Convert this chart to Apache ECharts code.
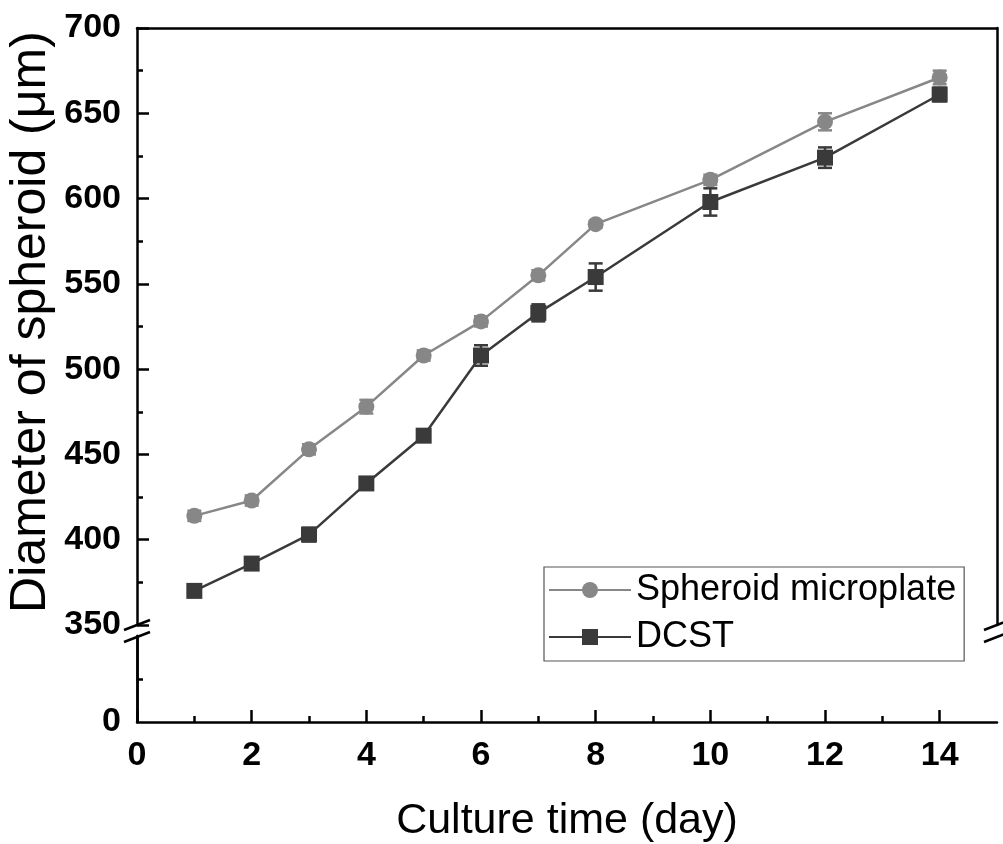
<!DOCTYPE html>
<html>
<head>
<meta charset="utf-8">
<script src="https://cdn.jsdelivr.net/npm/echarts@6/dist/echarts.min.js"></script>
<style>
html,body{margin:0;padding:0;background:#fff;}
#chart{width:1003px;height:844px;}
</style>
</head>
<body>
<div id="chart"></div>
<script>
// ---- data ----
var days = [1, 2, 3, 4, 5, 6, 7, 8, 10, 12, 14];
var spheroidMicroplate = [414, 423, 453, 478, 508, 528, 555, 585, 611, 645, 671];
var spheroidMicroplateErr = [3, 3, 3, 4, 3, 3, 3, 2, 3, 5, 4];
var dcst = [370, 386, 403, 433, 461, 508, 533, 554, 598, 624, 661];
var dcstErr = [2, 2, 4, 3, 3, 6, 5, 8, 8, 6, 4];
var xMajorTicks = [0, 2, 4, 6, 8, 10, 12, 14];
var xMinorTicks = [1, 3, 5, 7, 9, 11, 13];
var seriesNames = ['Spheroid microplate', 'DCST'];

var FONT = 'Liberation Sans, Arial, sans-serif';
var colLight = '#878787';
var colDark = '#3a3a3a';

function pairs(xs, ys) { return xs.map(function (x, i) { return [x, ys[i]]; }); }
function errData(xs, ys, es) { return xs.map(function (x, i) { return [x, ys[i] - es[i], ys[i] + es[i]]; }); }

function errRenderer(color) {
  return function (params, api) {
    var x = api.value(0), lo = api.value(1), hi = api.value(2);
    var pHi = api.coord([x, hi]), pLo = api.coord([x, lo]);
    var hw = 7;
    var st = { stroke: color, lineWidth: 2.5 };
    return {
      type: 'group',
      children: [
        { type: 'line', shape: { x1: pHi[0], y1: pHi[1], x2: pLo[0], y2: pLo[1] }, style: st },
        { type: 'line', shape: { x1: pHi[0] - hw, y1: pHi[1], x2: pHi[0] + hw, y2: pHi[1] }, style: st },
        { type: 'line', shape: { x1: pLo[0] - hw, y1: pLo[1], x2: pLo[0] + hw, y2: pLo[1] }, style: st }
      ]
    };
  };
}

var axisLine = { show: true, lineStyle: { color: '#000', width: 2.5 } };
var tickLabel = { color: '#000', fontSize: 34, fontWeight: 'bold', fontFamily: FONT };

var chart = echarts.init(document.getElementById('chart'), null, { renderer: 'canvas' });

var breakStyle = { stroke: '#000', lineWidth: 2.5 };

var option = {
  animation: false,
  backgroundColor: '#fff',
  grid: [
    { left: 137, right: 6, top: 28, height: 597 },
    { left: 137, right: 6, top: 636, height: 86 }
  ],
  xAxis: [
    {
      gridIndex: 1, type: 'value', position: 'bottom', min: 0, max: 15, interval: 2,
      axisLine: axisLine,
      axisTick: { show: true, inside: true, length: 12, customValues: xMajorTicks, lineStyle: { color: '#000', width: 2.5 } },
      axisLabel: Object.assign({ margin: 17, customValues: xMajorTicks }, tickLabel),
      splitLine: { show: false },
      name: 'Culture time (day)', nameLocation: 'middle', nameGap: 78,
      nameTextStyle: { color: '#000', fontSize: 43, fontFamily: FONT }
    },
    {
      gridIndex: 1, type: 'value', position: 'bottom', min: 0, max: 15, interval: 1,
      axisLine: { show: false },
      axisTick: { show: true, inside: true, length: 6, customValues: xMinorTicks, lineStyle: { color: '#000', width: 2.5 } },
      axisLabel: { show: false },
      splitLine: { show: false }
    },
    {
      gridIndex: 0, type: 'value', position: 'top', min: 0, max: 15, interval: 2,
      axisLine: axisLine,
      axisTick: { show: false },
      axisLabel: { show: false },
      splitLine: { show: false }
    }
  ],
  yAxis: [
    {
      gridIndex: 0, type: 'value', position: 'left', min: 350, max: 700, interval: 50,
      axisLine: axisLine,
      axisTick: { show: true, inside: true, length: 12, lineStyle: { color: '#000', width: 2.5 } },
      minorTick: { show: true, splitNumber: 2, length: 6, lineStyle: { color: '#000', width: 2.5 } },
      axisLabel: Object.assign({ margin: 16 }, tickLabel),
      splitLine: { show: false }, minorSplitLine: { show: false }
    },
    {
      gridIndex: 0, type: 'value', position: 'right', min: 350, max: 700, interval: 50,
      axisLine: axisLine, axisTick: { show: false }, axisLabel: { show: false }, splitLine: { show: false }
    },
    {
      gridIndex: 1, type: 'value', position: 'left', min: 0, max: 350, interval: 175,
      axisLine: axisLine,
      axisTick: { show: true, inside: true, length: 6, customValues: [175], lineStyle: { color: '#000', width: 2.5 } },
      axisLabel: Object.assign({ margin: 16, customValues: [0] }, tickLabel),
      splitLine: { show: false }
    },
    {
      gridIndex: 1, type: 'value', position: 'right', min: 0, max: 350, interval: 175,
      axisLine: axisLine, axisTick: { show: false }, axisLabel: { show: false }, splitLine: { show: false }
    }
  ],
  legend: {
    data: seriesNames,
    orient: 'vertical',
    left: 544, top: 567,
    padding: [5, 8, 6, 4],
    itemGap: 11,
    itemWidth: 82, itemHeight: 20,
    borderColor: '#555', borderWidth: 1.2,
    textStyle: { color: '#000', fontSize: 36, fontFamily: FONT, lineHeight: 36 }
  },
  graphic: [
    { type: 'line', shape: { x1: 124, y1: 630, x2: 150, y2: 620 }, style: breakStyle, z: 100 },
    { type: 'line', shape: { x1: 124, y1: 642, x2: 150, y2: 632 }, style: breakStyle, z: 100 },
    { type: 'line', shape: { x1: 984, y1: 630, x2: 1010, y2: 620 }, style: breakStyle, z: 100 },
    { type: 'line', shape: { x1: 984, y1: 642, x2: 1010, y2: 632 }, style: breakStyle, z: 100 },
    {
      type: 'text', x: 31, y: 322, rotation: Math.PI / 2,
      style: { text: 'Diameter of spheroid (μm)', fill: '#000', font: '50px ' + FONT, textAlign: 'center', textVerticalAlign: 'middle' }
    }
  ],
  series: [
    {
      name: seriesNames[0], type: 'line', xAxisIndex: 2, yAxisIndex: 0,
      data: pairs(days, spheroidMicroplate),
      symbol: 'circle', symbolSize: 16,
      lineStyle: { color: colLight, width: 2.5 },
      itemStyle: { color: colLight },
      z: 3
    },
    {
      name: seriesNames[1], type: 'line', xAxisIndex: 2, yAxisIndex: 0,
      data: pairs(days, dcst),
      symbol: 'rect', symbolSize: 16,
      lineStyle: { color: colDark, width: 2.5 },
      itemStyle: { color: colDark },
      z: 4
    },
    {
      name: 'err1', type: 'custom', xAxisIndex: 2, yAxisIndex: 0,
      data: errData(days, spheroidMicroplate, spheroidMicroplateErr),
      encode: { x: 0, y: [1, 2] },
      renderItem: errRenderer(colLight), z: 5, silent: true
    },
    {
      name: 'err2', type: 'custom', xAxisIndex: 2, yAxisIndex: 0,
      data: errData(days, dcst, dcstErr),
      encode: { x: 0, y: [1, 2] },
      renderItem: errRenderer(colDark), z: 6, silent: true
    }
  ]
};
chart.setOption(option);
</script>
</body>
</html>
